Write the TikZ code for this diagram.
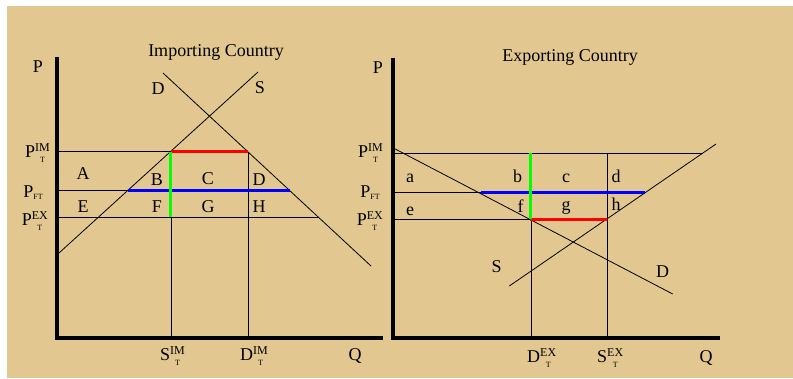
\documentclass[tikz,border=0pt]{standalone}
\usepackage{fontspec}
\setmainfont{Liberation Serif}
\definecolor{parchment}{RGB}{226,200,144}

% P with a raised country mark and a small T below it
\newcommand{\tarifflab}[3]{#1\setbox0\hbox{\fontsize{12}{12}\selectfont #2}%
  \rlap{\raisebox{5.5pt}{\copy0}}%
  \hbox to\wd0{\hss\raisebox{-5.5pt}{\fontsize{8}{8}\selectfont #3}\hss}}
% P with the free trade mark
\newcommand{\freelab}[2]{#1\raisebox{-2pt}{\fontsize{8}{8}\selectfont #2}}

\begin{document}
\begin{tikzpicture}[
    x=1pt, y=-1pt,
    axis/.style={line width=4pt, line join=miter},
    curve/.style={line width=0.8pt},
    guide/.style={line width=0.8pt},
    gap/.style={line width=3pt},
    lab/.style={font=\fontsize{18}{20}\selectfont, inner sep=0pt},
    tick/.style={lab, anchor=base east},
    qlab/.style={lab, anchor=base west}
  ]
  \useasboundingbox (0,0) rectangle (793,378);
  \fill[parchment] (7,6) rectangle (793,378);

  % ---------------- Importing country ----------------
  \node[lab, anchor=base] (imtitle) at (216,56) {Importing Country};
  \node[lab, anchor=base] (imP) at (38,72) {P};
  \node[lab, anchor=base] (imQ) at (355,360) {Q};
  \draw[axis] (57,57) -- (57,338) -- (383,338);

  % supply and demand
  \draw[curve] (163,73) -- (371,266);
  \draw[curve] (59,253) -- (258,72);
  \node[lab] (imDl) at (158,89) {D};
  \node[lab] (imSl) at (260,88) {S};

  % price lines
  \coordinate (imSim) at (170.5,151.7);
  \coordinate (imDim) at (248,151.7);
  \coordinate (imSft) at (127.5,190.7);
  \coordinate (imDft) at (289.5,190.7);
  \coordinate (imSex) at (170.5,217.3);
  \coordinate (imDex) at (318.5,217.3);
  \draw[guide] (59,151.7) -- (imSim);
  \draw[guide] (59,190.7) -- (imSft);
  \draw[guide] (59,217.3) -- (imDex);
  \draw[guide] (171.5,217.3) -- (171.5,338);
  \draw[guide] (imDim) -- (248,338);
  \draw[gap, red] (imSim) -- (imDim);
  \draw[gap, blue] (imSft) -- (imDft);
  \draw[gap, green] (imSim) -- (imSex);

  \node[tick] (imPim) at (50,157) {\tarifflab{P}{IM}{T}};
  \node[tick] (imPft) at (43,197) {\freelab{P}{FT}};
  \node[tick] (imPex) at (48,225) {\tarifflab{P}{EX}{T}};
  \node[qlab] (imSq) at (160,360) {\tarifflab{S}{IM}{T}};
  \node[qlab] (imDq) at (240,360) {\tarifflab{D}{IM}{T}};

  % areas
  \node[lab] (A) at (83,174) {A};
  \node[lab] (B) at (157,180) {B};
  \node[lab] (C) at (208,179) {C};
  \node[lab] (D) at (259,180) {D};
  \node[lab] (E) at (83,207) {E};
  \node[lab] (F) at (157,207) {F};
  \node[lab] (G) at (208,207) {G};
  \node[lab] (H) at (259,207) {H};

  % ---------------- Exporting country ----------------
  \node[lab, anchor=base] (extitle) at (570,61) {Exporting Country};
  \node[lab, anchor=base] (exP) at (378,73) {P};
  \node[lab, anchor=base] (exQ) at (706,362) {Q};
  \draw[axis] (393,58) -- (393,338) -- (720,338);

  % supply and demand
  \draw[curve] (393.3,148) -- (672.7,294);
  \draw[curve] (509.3,286) -- (716,144);
  \node[lab] (exDl) at (662.7,271.7) {D};
  \node[lab] (exSl) at (496.7,266.7) {S};

  % price lines
  \coordinate (exSim) at (702.5,153.3);
  \coordinate (exGim) at (530,153.3);
  \coordinate (exDft) at (481,192.7);
  \coordinate (exSft) at (645,192.7);
  \coordinate (exDex) at (530,219);
  \coordinate (exSex) at (607.3,219);
  \draw[guide] (395,153.3) -- (exSim);
  \draw[guide] (395,192.7) -- (exDft);
  \draw[guide] (395,219) -- (exDex);
  \draw[guide] (531.7,219) -- (531.7,338);
  \draw[guide] (607.3,153.3) -- (607.3,338);
  \draw[gap, red] (exDex) -- (exSex);
  \draw[gap, blue] (exDft) -- (exSft);
  \draw[gap, green] (exGim) -- (exDex);

  \node[tick] (exPim) at (383,157) {\tarifflab{P}{IM}{T}};
  \node[tick] (exPft) at (380,197) {\freelab{P}{FT}};
  \node[tick] (exPex) at (383,225) {\tarifflab{P}{EX}{T}};
  \node[qlab] (exDq) at (527,362) {\tarifflab{D}{EX}{T}};
  \node[qlab] (exSq) at (597,362) {\tarifflab{S}{EX}{T}};

  % areas
  \node[lab, anchor=base] (a) at (410,182.7) {a};
  \node[lab, anchor=base] (b) at (517.7,182.7) {b};
  \node[lab, anchor=base] (c) at (566,182.7) {c};
  \node[lab, anchor=base] (d) at (616,182.7) {d};
  \node[lab, anchor=base] (e) at (410,215) {e};
  \node[lab, anchor=base] (f) at (520.7,212) {f};
  \node[lab, anchor=base] (g) at (566,210) {g};
  \node[lab, anchor=base] (h) at (616,210) {h};
\end{tikzpicture}
\end{document}
